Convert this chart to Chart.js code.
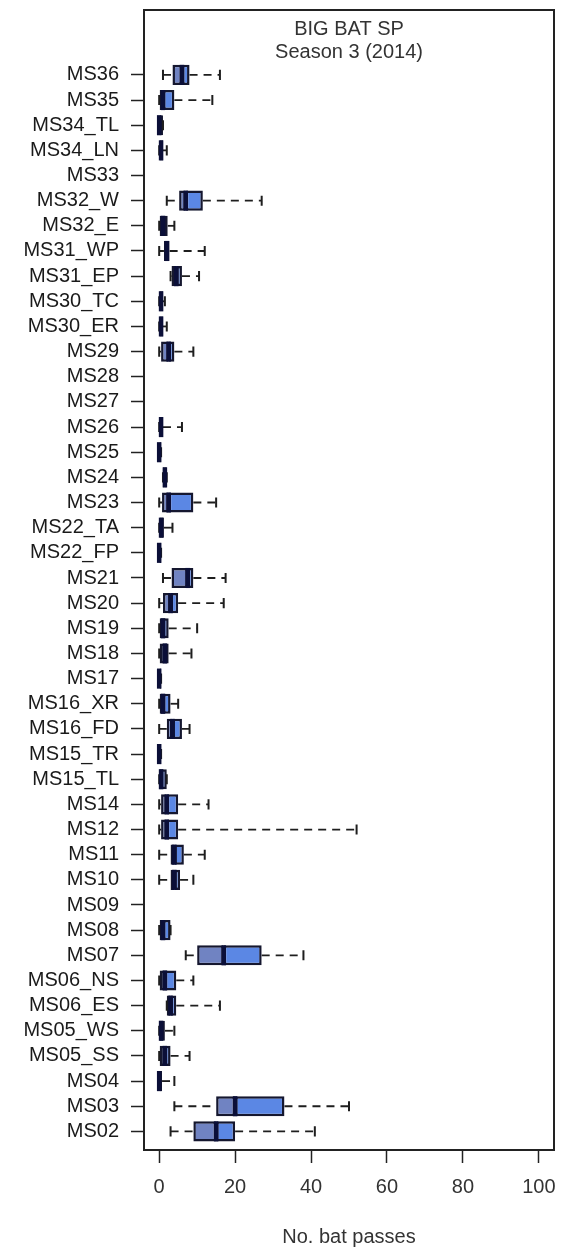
<!DOCTYPE html>
<html>
<head>
<meta charset="utf-8">
<script src="https://cdn.jsdelivr.net/npm/chart.js@4.4.1/dist/chart.umd.min.js"></script>
<style>
  html, body { margin: 0; padding: 0; background: #ffffff; }
  #wrap { width: 563px; height: 1249px; }
</style>
</head>
<body>
<div id="wrap"><canvas id="c" width="563" height="1249"></canvas></div>
<script>
// Sites, listed top to bottom as they appear on the y axis
const categories = [
  'MS36', 'MS35', 'MS34_TL', 'MS34_LN', 'MS33', 'MS32_W', 'MS32_E', 'MS31_WP', 'MS31_EP',
  'MS30_TC', 'MS30_ER', 'MS29', 'MS28', 'MS27', 'MS26', 'MS25', 'MS24', 'MS23', 'MS22_TA',
  'MS22_FP', 'MS21', 'MS20', 'MS19', 'MS18', 'MS17', 'MS16_XR', 'MS16_FD', 'MS15_TR',
  'MS15_TL', 'MS14', 'MS12', 'MS11', 'MS10', 'MS09', 'MS08', 'MS07', 'MS06_NS', 'MS06_ES',
  'MS05_WS', 'MS05_SS', 'MS04', 'MS03', 'MS02'
];

// Five-number summaries per site (null = no recordings)
const whiskerLow = [1, 0, 0, 0, null, 2, 0, 0, 3, 0, 0, 0, null, null, 0, 0, 1, 0, 0, 0, 1, 0, 0, 0, 0, 0, 0, 0, 0, 0, 0, 0, 0, null, 0, 7, 0, 2, 0, 0, 0, 4, 3];
const q1 = [3.5, 0, 0, 0, null, 5.25, 0, 1.25, 3.25, 0, 0, 0.5, null, null, 0, 0, 1, 0.75, 0, 0, 3.25, 1, 0, 0, 0, 0, 2, 0, 0, 0.5, 0.5, 3, 3, null, 0, 10, 0, 2, 0, 0, 0, 15, 9];
const median = [6, 1, 0, 0.5, null, 7, 1, 2, 4.5, 0.5, 0.5, 2.5, null, null, 0.5, 0, 1.5, 2.5, 0.5, 0, 7.5, 3, 1, 1.5, 0, 1, 3.5, 0, 0.5, 2, 2, 4, 4, null, 1, 17, 1.5, 3, 0.5, 1.5, 0, 20, 15];
const q3 = [8, 4, 1, 1, null, 11.5, 2.25, 2.75, 6, 1, 1, 4, null, null, 1, 0.5, 2, 9, 1.25, 0.5, 9, 5, 2.5, 2.5, 0.5, 3, 6, 0.5, 2, 5, 5, 6.5, 5.5, null, 3, 27, 4.5, 4.5, 1.5, 3, 0.75, 33, 20];
const whiskerHigh = [16, 14, 1, 2, null, 27, 4, 12, 10.5, 1.5, 2, 9, null, null, 6, 0.5, 2, 15, 3.5, 0.5, 17.5, 17, 10, 8.5, 0.5, 5, 8, 0.5, 2, 13, 52, 12, 9, null, 3, 38, 9, 16, 4, 8, 4, 50, 41];

const xTicks = [0, 20, 40, 60, 80, 100];
const titleLines = ['BIG BAT SP', 'Season 3 (2014)'];
const xTitle = 'No. bat passes';

const FONT = "'Liberation Sans', Arial, Helvetica, sans-serif";
const n = categories.length;
const posOf = i => n - i;            // first listed site sits at the top
const BOX_HALF = 0.4;                // half box height in category units
const STAPLE_HALF = 0.2;

const lowerHalf = [];
const upperHalf = [];
categories.forEach((c, i) => {
  if (q1[i] == null) return;
  lowerHalf.push({ y: posOf(i), x: [q1[i], median[i]] });
  upperHalf.push({ y: posOf(i), x: [median[i], q3[i]] });
});

// Whiskers, staples and medians, drawn through the chart's scales
const boxDetails = {
  id: 'boxDetails',
  afterDatasetsDraw(chart) {
    const { ctx, scales: { x, y } } = chart;
    ctx.save();
    categories.forEach((c, i) => {
      if (q1[i] == null) return;
      const p = posOf(i);
      const yc = y.getPixelForValue(p);
      const sTop = y.getPixelForValue(p + STAPLE_HALF);
      const sBot = y.getPixelForValue(p - STAPLE_HALF);
      // dashed whiskers
      ctx.strokeStyle = '#1e1e1e';
      ctx.lineWidth = 1.8;
      ctx.setLineDash([8, 6]);
      ctx.beginPath();
      if (whiskerLow[i] < q1[i]) {
        ctx.moveTo(x.getPixelForValue(whiskerLow[i]), yc);
        ctx.lineTo(x.getPixelForValue(q1[i]), yc);
      }
      if (whiskerHigh[i] > q3[i]) {
        ctx.moveTo(x.getPixelForValue(q3[i]), yc);
        ctx.lineTo(x.getPixelForValue(whiskerHigh[i]), yc);
      }
      ctx.stroke();
      // staples
      ctx.setLineDash([]);
      ctx.lineWidth = 2;
      ctx.beginPath();
      [whiskerLow[i], whiskerHigh[i]].forEach(v => {
        const px = x.getPixelForValue(v);
        ctx.moveTo(px, sTop);
        ctx.lineTo(px, sBot);
      });
      ctx.stroke();
      // median
      ctx.strokeStyle = '#0b0f38';
      ctx.lineWidth = 4.5;
      ctx.beginPath();
      const mx = x.getPixelForValue(median[i]);
      ctx.moveTo(mx, y.getPixelForValue(p + BOX_HALF));
      ctx.lineTo(mx, y.getPixelForValue(p - BOX_HALF));
      ctx.stroke();
    });
    ctx.restore();
  }
};

// Plot frame and the two-line heading inside it
const frameAndHeading = {
  id: 'frameAndHeading',
  afterDraw(chart) {
    const { ctx, chartArea: a } = chart;
    ctx.save();
    ctx.strokeStyle = '#222222';
    ctx.lineWidth = 2;
    ctx.strokeRect(a.left, a.top, a.right - a.left, a.bottom - a.top);
    ctx.fillStyle = '#333333';
    ctx.font = '20px ' + FONT;
    ctx.textAlign = 'center';
    ctx.textBaseline = 'middle';
    const cx = (a.left + a.right) / 2;
    ctx.fillText(titleLines[0], cx, a.top + 19);
    ctx.fillText(titleLines[1], cx, a.top + 42);
    ctx.restore();
  }
};

const commonBar = {
  grouped: false,
  categoryPercentage: 0.8,
  barPercentage: 1.0,
  borderColor: '#15172f',
  borderWidth: 2.5,
  borderSkipped: false
};

new Chart(document.getElementById('c'), {
  type: 'bar',
  data: {
    datasets: [
      Object.assign({ label: 'lower', data: lowerHalf, backgroundColor: '#7083c2' }, commonBar),
      Object.assign({ label: 'upper', data: upperHalf, backgroundColor: '#5b87e4' }, commonBar)
    ]
  },
  options: {
    indexAxis: 'y',
    responsive: false,
    animation: false,
    devicePixelRatio: 1,
    layout: { padding: { left: 0, right: 9, top: 10, bottom: 0 } },
    plugins: { legend: { display: false }, tooltip: { enabled: false } },
    scales: {
      x: {
        type: 'linear',
        position: 'bottom',
        min: -4,
        max: 104,
        offset: false,
        afterBuildTicks: s => { s.ticks = xTicks.map(v => ({ value: v })); },
        afterFit: s => { s.height = 99; s.paddingLeft = 0; s.paddingRight = 0; },
        border: { display: false },
        grid: { offset: false, drawOnChartArea: false, drawTicks: true, tickLength: 13, tickColor: '#222', tickWidth: 1.5 },
        ticks: { font: { family: FONT, size: 20, lineHeight: 1 }, color: '#333', padding: 14, maxRotation: 0 },
        title: { display: true, text: xTitle, font: { family: FONT, size: 20 }, color: '#333', padding: { top: 0, bottom: 0 } }
      },
      y: {
        type: 'linear',
        position: 'left',
        min: 0.26,
        max: 45.58,
        offset: false,
        afterBuildTicks: s => { s.ticks = categories.map((c, i) => ({ value: posOf(i) })); },
        afterFit: s => { s.width = 144; s.paddingTop = 0; s.paddingBottom = 0; },
        border: { display: false },
        grid: { offset: false, drawOnChartArea: false, drawTicks: true, tickLength: 13, tickColor: '#222', tickWidth: 1.5 },
        ticks: {
          autoSkip: false,
          font: { family: FONT, size: 20, lineHeight: 1 },
          color: '#1a1a1a',
          padding: 12,
          callback: v => categories[n - v]
        }
      }
    }
  },
  plugins: [boxDetails, frameAndHeading]
});
</script>
</body>
</html>
